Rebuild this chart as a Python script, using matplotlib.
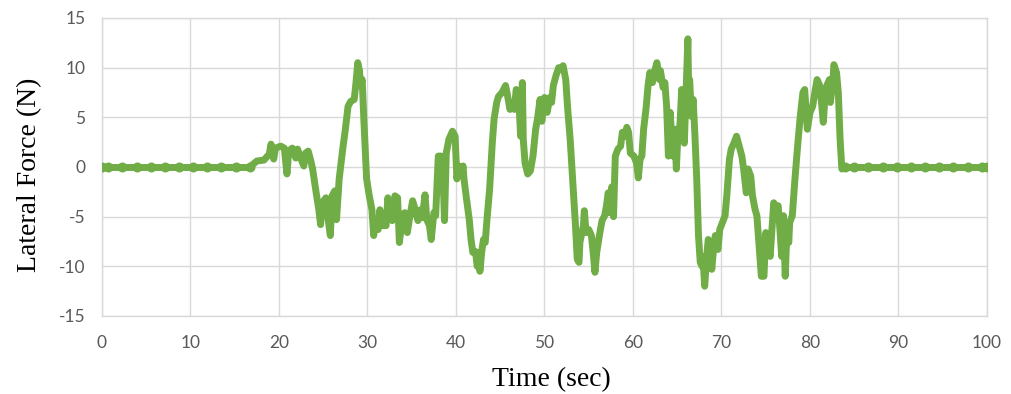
import matplotlib
matplotlib.use("Agg")
from matplotlib import pyplot as plt

# idle period before the run (sensor ripple shows as small bumps on the trace)
t_idle_start = [0.0, 0.7, 2.3, 3.9, 5.5, 7.1, 8.7, 10.3, 11.9, 13.5, 15.1, 16.7]
f_idle_start = [0.0, 0.0, 0.0, 0.0, 0.0, 0.0, 0.0, 0.0, 0.0, 0.0, 0.0, 0.0]

# the manoeuvre itself
t_run = [16.7, 17.5, 18.3, 18.9, 19.1, 19.4, 19.6, 20.2, 20.6, 20.9, 21.1, 21.5,
         21.9, 22.1, 22.5, 22.8, 23.0, 23.3, 23.6, 23.8, 24.2, 24.5, 24.7, 24.9,
         25.3, 25.5, 25.8, 26.0, 26.3, 26.5, 26.8, 27.2, 27.5, 27.8, 28.1, 28.5,
         28.7, 28.9, 29.1, 29.2, 29.4, 29.6, 29.9, 30.2, 30.5, 30.7, 30.9, 31.2,
         31.4, 31.7, 32.1, 32.3, 32.6, 32.8, 33.1, 33.4, 33.6, 34.0, 34.2, 34.5,
         34.8, 35.1, 35.4, 35.7, 36.0, 36.2, 36.5, 36.7, 37.0, 37.2, 37.5, 37.7,
         38.0, 38.3, 38.5, 38.7, 38.9, 39.2, 39.6, 39.9, 40.1, 40.3, 40.6, 40.8,
         40.9, 41.2, 41.5, 41.7, 41.9, 42.2, 42.4, 42.6, 42.7, 42.9, 43.1, 43.3,
         43.5, 43.8, 44.1, 44.3, 44.6, 44.8, 45.2, 45.6, 45.8, 46.1, 46.3, 46.6,
         46.8, 47.1, 47.3, 47.5, 47.6, 47.8, 48.1, 48.4, 48.7, 49.0, 49.2, 49.5,
         49.7, 50.0, 50.3, 50.6, 50.8, 51.0, 51.3, 51.6, 51.9, 52.1, 52.4, 52.6,
         52.9, 53.2, 53.5, 53.7, 53.9, 54.0, 54.4, 54.5, 54.7, 55.0, 55.3, 55.5,
         55.7, 55.9, 56.2, 56.5, 56.8, 57.0, 57.2, 57.4, 57.6, 57.8, 58.0, 58.3,
         58.6, 58.8, 59.1, 59.3, 59.5, 59.7, 60.1, 60.4, 60.6, 60.8, 61.0, 61.2,
         61.5, 61.7, 61.9, 62.2, 62.4, 62.7, 63.0, 63.1, 63.4, 63.6, 63.8, 64.0,
         64.2, 64.5, 64.7, 64.9, 65.1, 65.3, 65.5, 65.8, 66.0, 66.2, 66.3, 66.4,
         66.6, 66.8, 67.0, 67.2, 67.4, 67.6, 67.8, 67.9, 68.1, 68.3, 68.5, 68.7,
         68.9, 69.1, 69.3, 69.6, 69.8, 70.1, 70.4, 70.6, 70.9, 71.1, 71.4, 71.7,
         72.0, 72.3, 72.5, 72.8, 73.0, 73.3, 73.5, 73.8, 74.0, 74.2, 74.4, 74.5,
         74.8, 75.0, 75.2, 75.5, 75.7, 75.9, 76.2, 76.4, 76.6, 76.8, 77.0, 77.2,
         77.4, 77.6, 77.7, 78.0, 78.3, 78.6, 78.9, 79.2, 79.4, 79.7, 80.0, 80.3,
         80.6, 80.8, 81.1, 81.3, 81.5, 81.7, 81.9, 82.2, 82.3, 82.6, 82.7, 83.0,
         83.2, 83.4, 83.6, 84.0]
f_run = [0.0, 0.6, 0.7, 1.3, 2.3, 0.8, 1.9, 2.1, 1.9, -0.7, 1.6, 1.9,
         0.9, 1.8, 0.8, 0.1, 1.4, 1.6, 0.6, -0.2, -2.6, -4.3, -5.8, -3.6,
         -3.1, -4.9, -6.9, -2.9, -2.4, -5.3, -1.2, 1.8, 3.8, 6.1, 6.6, 6.8,
         8.5, 10.5, 9.7, 8.2, 8.8, 4.5, -1.2, -2.9, -4.3, -6.9, -5.3, -6.3,
         -4.3, -5.9, -5.9, -3.1, -4.6, -5.4, -2.9, -3.1, -7.6, -4.8, -4.6, -6.6,
         -4.9, -3.4, -4.3, -5.4, -4.3, -5.1, -2.8, -5.3, -5.9, -7.3, -4.6, -4.9,
         1.1, 1.1, 0.1, -5.4, 1.4, 2.8, 3.6, 3.1, -1.2, 0.1, -0.6, 0.1,
         -1.2, -3.3, -5.3, -7.3, -8.6, -8.5, -10.0, -8.6, -10.5, -8.6, -7.3, -7.6,
         -5.3, -2.2, 2.4, 4.8, 6.5, 7.1, 7.5, 8.2, 7.3, 5.8, 6.5, 5.8,
         7.8, 6.8, 3.1, 8.5, 2.8, 0.4, -0.7, -0.4, 1.1, 3.8, 4.8, 6.8,
         4.6, 7.0, 5.5, 7.0, 6.5, 8.2, 9.2, 10.0, 9.8, 10.2, 8.8, 6.1,
         2.8, -1.6, -5.9, -9.3, -9.6, -7.6, -5.9, -4.4, -6.6, -6.3, -6.9, -8.6,
         -10.6, -8.6, -6.9, -5.4, -4.9, -3.9, -2.6, -4.6, -2.0, -5.0, 1.1, 1.8,
         2.1, 3.5, 3.1, 4.0, 3.5, 1.4, 1.1, 0.4, -1.1, 0.8, 1.1, 3.8,
         6.1, 8.2, 9.5, 8.5, 9.5, 10.5, 8.8, 9.7, 8.0, 8.5, 6.1, 1.1,
         5.5, 1.1, 3.8, -0.2, 3.8, 4.1, 7.8, 2.4, 7.8, 12.9, 7.1, 8.8,
         5.1, 6.8, 3.1, -1.2, -6.9, -9.6, -10.0, -9.0, -12.0, -9.3, -7.3, -8.0,
         -10.3, -8.3, -6.9, -8.3, -6.3, -5.6, -4.9, -2.9, 0.8, 1.8, 2.4, 3.1,
         2.1, 1.1, -0.2, -2.6, -0.2, -0.9, -2.9, -4.3, -4.9, -7.3, -9.6, -11.0,
         -11.0, -6.6, -8.0, -9.0, -6.3, -3.6, -4.3, -3.9, -6.3, -9.0, -4.9, -11.0,
         -6.3, -7.6, -5.6, -4.9, -1.2, 2.1, 5.1, 7.5, 7.8, 3.8, 5.5, 6.1,
         7.8, 8.8, 8.2, 6.5, 4.5, 7.1, 8.2, 8.8, 6.5, 8.8, 10.3, 9.5,
         7.5, 2.8, -0.2, 0.0]

# idle period after the run
t_idle_end = [84.0, 85.0, 86.6, 88.2, 89.8, 91.4, 93.0, 94.6, 96.2, 97.8, 99.4, 100.0]
f_idle_end = [0.0, 0.0, 0.0, 0.0, 0.0, 0.0, 0.0, 0.0, 0.0, 0.0, 0.0, 0.0]

x_ticks = [0, 10, 20, 30, 40, 50, 60, 70, 80, 90, 100]
y_ticks = [-15, -10, -5, 0, 5, 10, 15]

green = '#70AD47'

plt.rcParams['axes.unicode_minus'] = False

fig = plt.figure(figsize=(10.12, 3.94), dpi=100)
ax = fig.add_axes([102 / 1012, 1 - 316 / 394, 885 / 1012, 298 / 394])

ax.plot(t_run, f_run, color=green, linewidth=5.0, solid_joinstyle='round',
        solid_capstyle='round', zorder=3)
for t, f in [(t_idle_start, f_idle_start), (t_idle_end, f_idle_end)]:
    ax.plot(t, f, color=green, linewidth=5.0, marker='o', markersize=7.2,
            markeredgewidth=0, solid_capstyle='round', zorder=3)

ax.set_xlim(0, 100)
ax.set_ylim(-15, 15)
ax.set_xticks(x_ticks)
ax.set_yticks(y_ticks)
ax.grid(True, color='#D9D9D9', linewidth=1.0, zorder=0)
for s in ax.spines.values():
    s.set_color('#D9D9D9')
    s.set_linewidth(1.0)
ax.tick_params(length=0, labelcolor='#595959', labelsize=12.5)
ax.tick_params(axis='y', pad=12)
ax.tick_params(axis='x', pad=14)
for lab in ax.get_xticklabels() + ax.get_yticklabels():
    lab.set_family('Lato')

fig.text(30 / 1012, 1 - 175 / 394, 'Lateral Force (N)', rotation=90,
         ha='center', va='center', fontsize=20, family='Liberation Serif')
fig.text(551 / 1012, 1 - 380 / 394, 'Time (sec)', ha='center', va='center',
         fontsize=20, family='Liberation Serif')

fig.savefig('out.png', dpi=100)
